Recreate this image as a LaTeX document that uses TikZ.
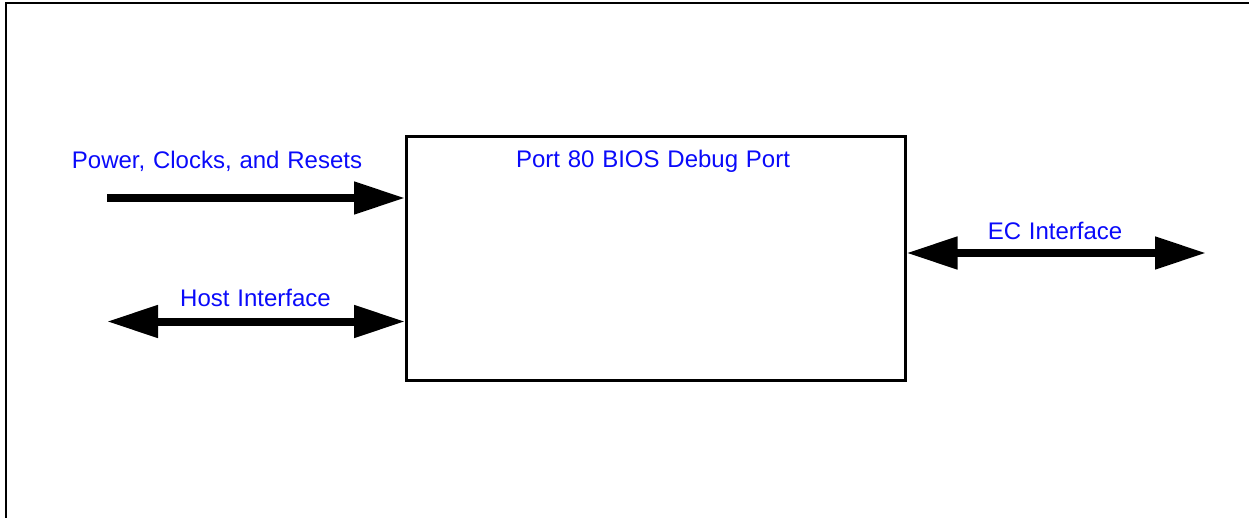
\documentclass[tikz,border=0pt]{standalone}
\usepackage{fontspec}
\setmainfont{Liberation Sans}
\usetikzlibrary{arrows.meta}
\definecolor{lblblue}{RGB}{10,10,250}
\newcommand{\lblfont}{\fontsize{24}{28}\selectfont\spaceskip=7.8pt plus 0pt minus 0pt\relax}
\begin{document}
\begin{tikzpicture}[x=1pt,y=-1pt,
  lbl/.style={text=lblblue,font=\lblfont,inner sep=0pt,anchor=base},
  bigarrow/.style={line width=8pt,draw=black},
  tipR/.style={-{Triangle[length=51pt,width=31pt]}},
  tipLR/.style={{Triangle[length=51pt,width=31pt]}-{Triangle[length=51pt,width=31pt]}},
  frameline/.style={line width=2pt,draw=black}]
\useasboundingbox (0,0) rectangle (1249,518);
% outer frame (top and left only)
\coordinate (fTL) at (6,3);
\coordinate (fTR) at (1249,3);
\coordinate (fBL) at (6,518);
\draw[frameline] (fTR) -- (fTL) -- (fBL);
% main box
\node[draw=black,line width=3pt,minimum width=498.5pt,minimum height=244pt,inner sep=0pt,anchor=north west] (box) at (405,135) {};
\node[lbl] (title) at (653,167.5) {Port 80 BIOS Debug Port};
% free ends
\coordinate (pwrS) at (107,198);
\coordinate (hostS) at (107,321.5);
\coordinate (ecE) at (1206,253);
% arrows
\draw[bigarrow,tipR] (pwrS) -- (pwrS -| box.west);
\draw[bigarrow,tipLR] (hostS) -- (hostS -| box.west);
\draw[bigarrow,tipLR] (ecE -| box.east) -- (ecE);
% labels
\node[lbl] (pwrL) at (217,168.3) {Power, Clocks, and Resets};
\node[lbl] (hostL) at (255.5,306.7) {Host Interface};
\node[lbl] (ecL) at (1055,239.3) {EC Interface};
\end{tikzpicture}
\end{document}
